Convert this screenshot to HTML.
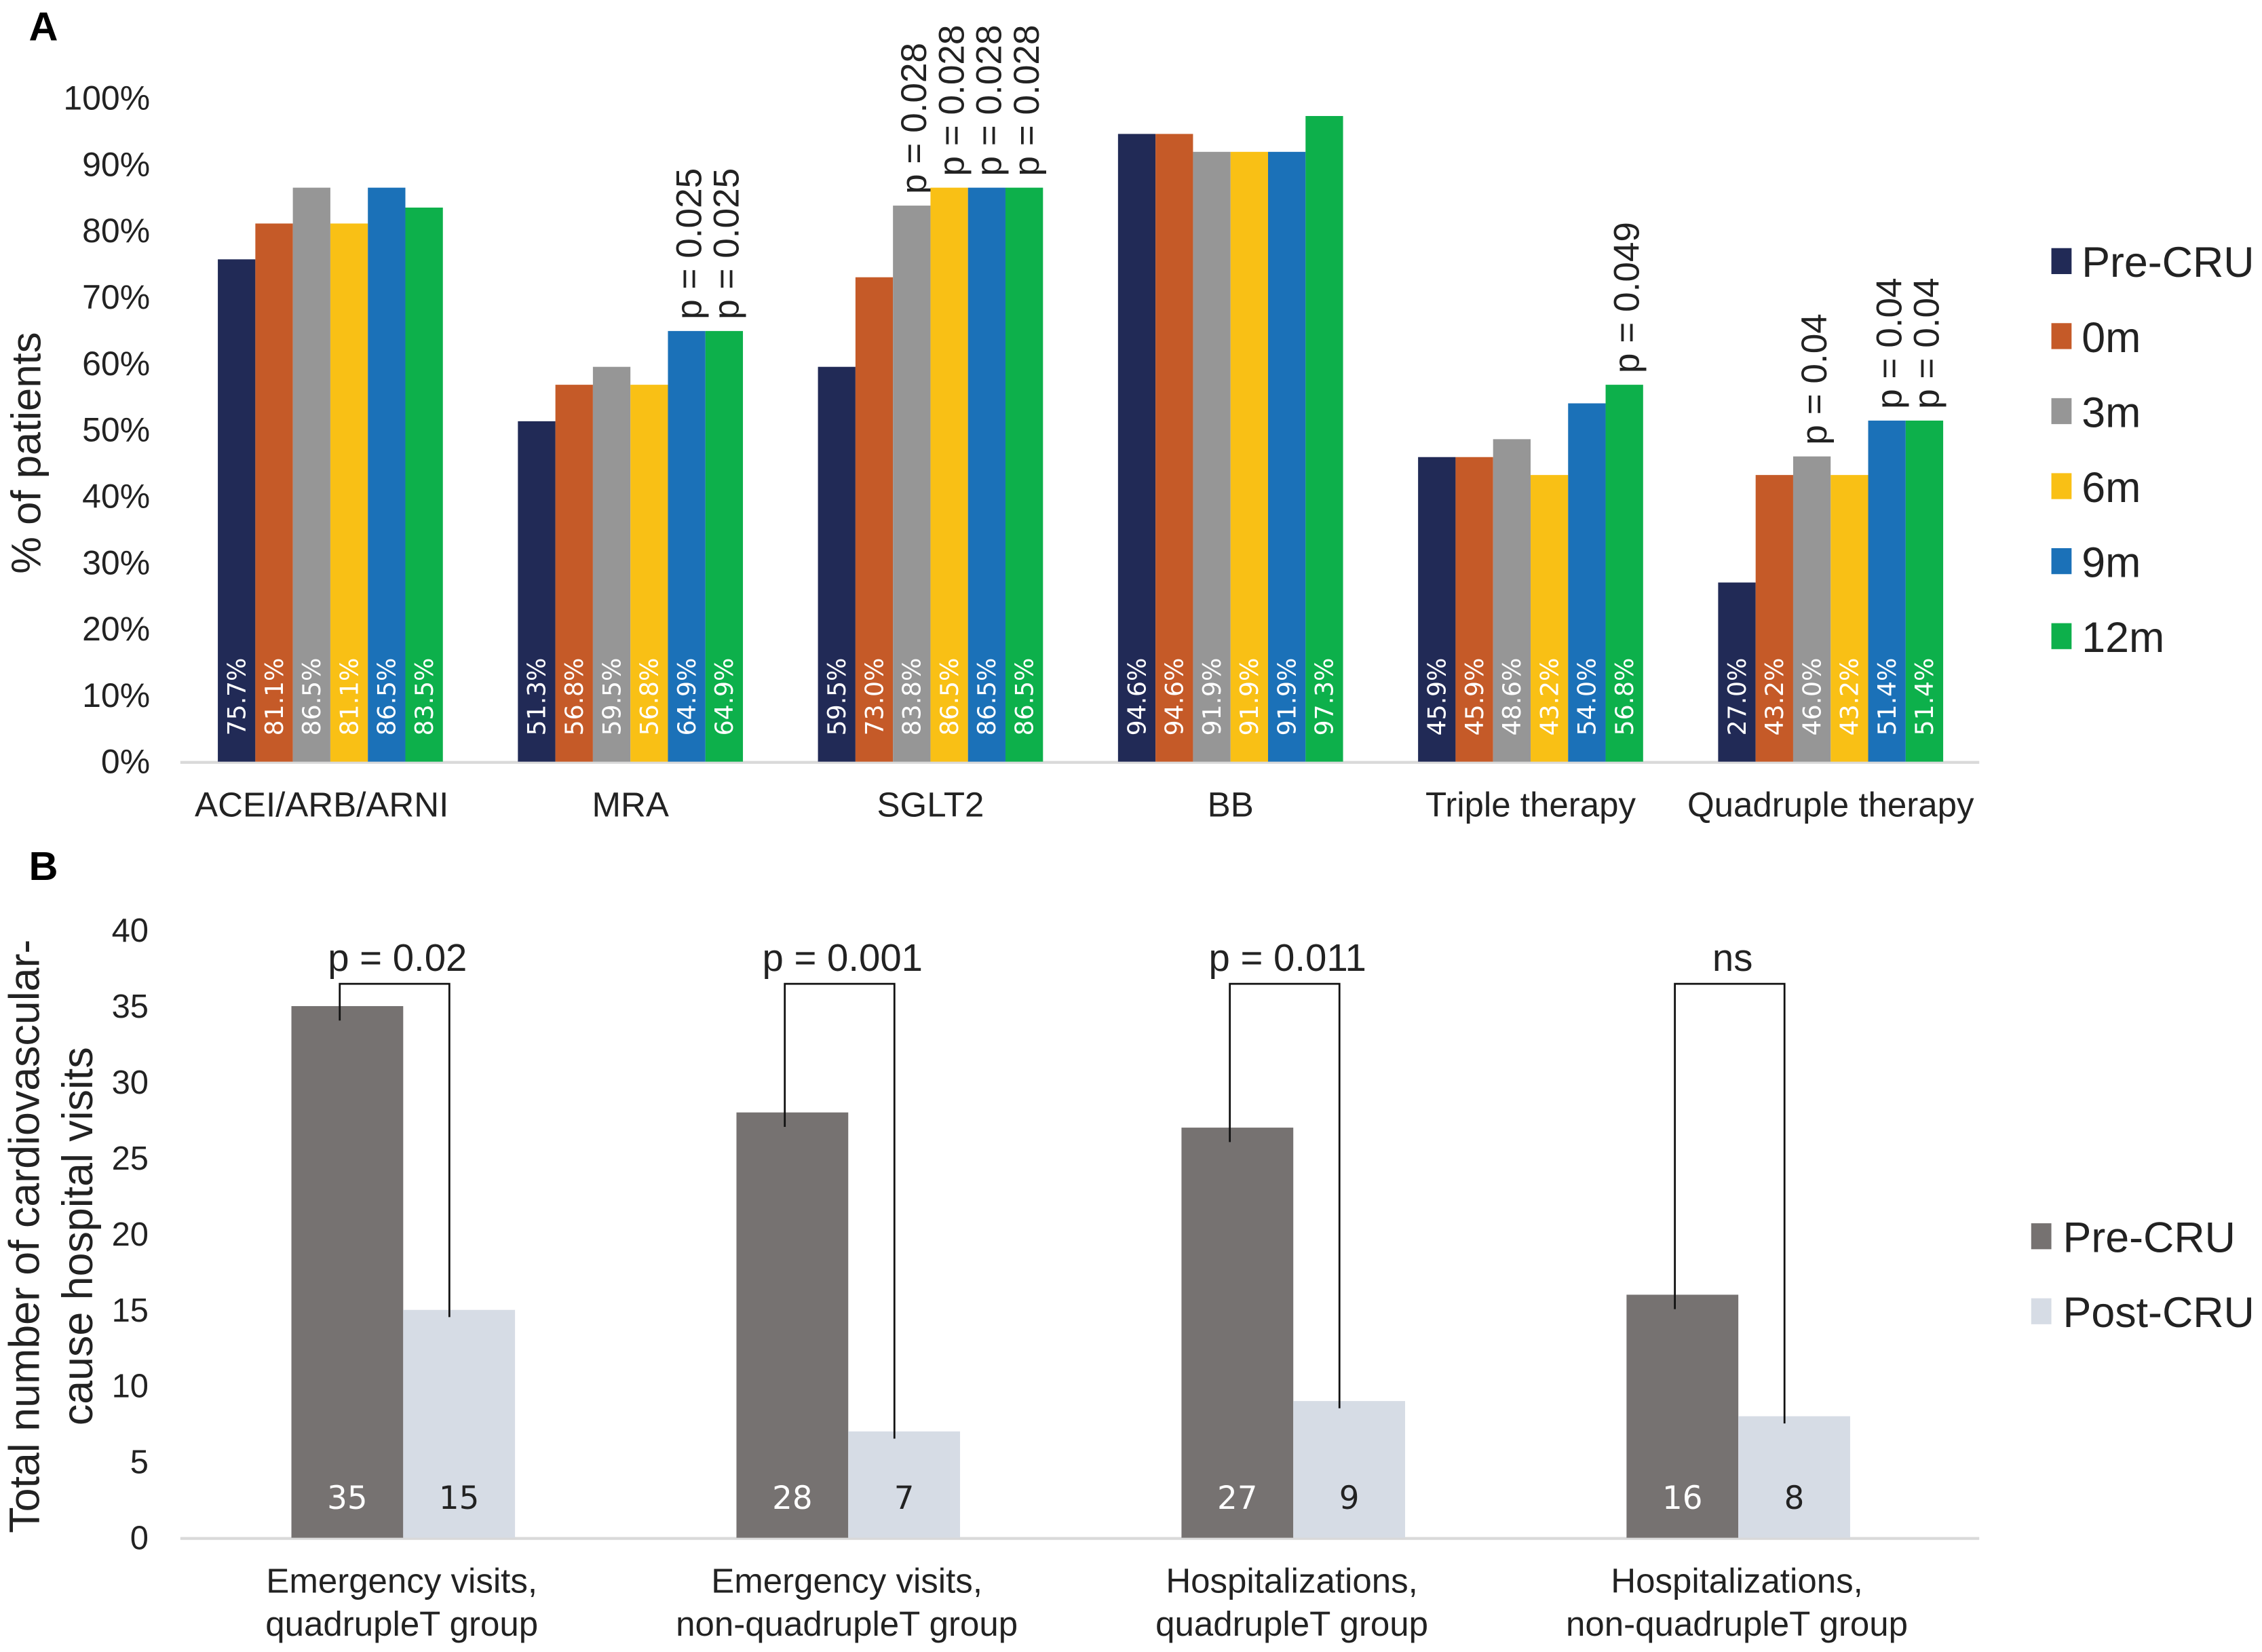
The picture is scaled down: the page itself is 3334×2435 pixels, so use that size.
<!DOCTYPE html>
<html><head><meta charset="utf-8"><style>
html,body{margin:0;padding:0;background:#fff}
svg{display:block;font-family:"Liberation Sans",sans-serif}
</style></head><body>
<svg id="fig" width="3334" height="2435" viewBox="0 0 1568 1145.2" xmlns="http://www.w3.org/2000/svg">
<text x="20" y="28" font-size="28" font-weight="bold">A</text>
<text x="20" y="610" font-size="28" font-weight="bold">B</text>
<g id="ga"></g>
<g id="gb"></g>
</svg>
<script>
const catsA = ["ACEI/ARB/ARNI","MRA","SGLT2","BB","Triple therapy","Quadruple therapy"];
const seriesA = ["Pre-CRU","0m","3m","6m","9m","12m"];
const valsPre = [75.7,51.3,59.5,94.6,45.9,27.0];
const vals0m  = [81.1,56.8,73.0,94.6,45.9,43.2];
const vals3m  = [86.5,59.5,83.8,91.9,48.6,46.0];
const vals6m  = [81.1,56.8,86.5,91.9,43.2,43.2];
const vals9m  = [86.5,64.9,86.5,91.9,54.0,51.4];
const vals12m = [83.5,64.9,86.5,97.3,56.8,51.4];
const pvalsA = [[null,null,null,null,null,null],[null,null,null,null,"0.025","0.025"],[null,null,"0.028","0.028","0.028","0.028"],[null,null,null,null,null,null],[null,null,null,null,null,"0.049"],[null,null,"0.04",null,"0.04","0.04"]];
const ticksA = [0,10,20,30,40,50,60,70,80,90,100];
const catsB = ["Emergency visits,|quadrupleT group","Emergency visits,|non-quadrupleT group","Hospitalizations,|quadrupleT group","Hospitalizations,|non-quadrupleT group"];
const seriesB = ["Pre-CRU","Post-CRU"];
const valsBPre = [35,28,27,16];
const valsBPost = [15,7,9,8];
const pvalsB = ["p = 0.02","p = 0.001","p = 0.011","ns"];
const ticksB = [0,5,10,15,20,25,30,35,40];

const NS="http://www.w3.org/2000/svg";
function mk(parent,tag,attrs,text){const e=document.createElementNS(NS,tag);for(const k in attrs)e.setAttribute(k,attrs[k]);if(text!=null)e.textContent=text;parent.appendChild(e);return e;}

// Chart A
const ga=document.getElementById('ga');
const colA=["#212a56","#c55a28","#969696","#f9c015","#1b71b8","#0db04b"];
const yA=v=>528-v*4.6;
const allA=[valsPre,vals0m,vals3m,vals6m,vals9m,vals12m];
ticksA.forEach(t=>{const e=mk(ga,'text',{x:104,y:yA(t)+8,'font-size':23.5,'text-anchor':'end',fill:'#222'},t+'%');

});
let ax=mk(ga,'line',{x1:125,x2:1372,y1:528.5,y2:528.5,stroke:'#d9d9d9','stroke-width':2});


let yt=mk(ga,'text',{transform:'translate(28,314) rotate(-90)','font-size':29,'text-anchor':'middle',fill:'#222'},'% of patients');


const bw=26;
catsA.forEach((c,i)=>{
 const cx=229+i*208, x0=cx-3*bw;
 allA.forEach((s,j)=>{
  const x=x0+j*bw, v=s[i];
  const r=mk(ga,'rect',{x:x,y:yA(v),width:bw,height:528-yA(v),fill:colA[j]});
  
  
  const t=mk(ga,'text',{transform:`translate(${x+bw/2+6},510) rotate(-90)`,'font-size':17,fill:'#fff','font-family':'DejaVu Sans, sans-serif'},v.toFixed(1)+'%');
  
  
  const p=pvalsA[i][j];
  if(p){const pt=mk(ga,'text',{transform:`translate(${x+bw/2+10},${yA(v)-8}) rotate(-90)`,'font-size':25,fill:'#222'},'p = '+p);
   
   }
 });
 const ct=mk(ga,'text',{x:cx-(i===0?6:0),y:566,'font-size':24,'text-anchor':'middle',fill:'#222'},c);
 
 
});
seriesA.forEach((s,j)=>{const y=182+j*52;
 const r=mk(ga,'rect',{x:1422,y:y-10,width:14,height:18,fill:colA[j]});
 
 
 const t=mk(ga,'text',{x:1443,y:y+10,'font-size':29.5,fill:'#222'},s);
 
 });

// Chart B
const gb=document.getElementById('gb');
const colB=["#767271","#d6dce5"];
const yB=v=>1066-v*10.53;
ticksB.forEach(t=>{const e=mk(gb,'text',{x:103,y:yB(t)+8,'font-size':23,'text-anchor':'end',fill:'#222'},t);

});
ax=mk(gb,'line',{x1:125,x2:1372,y1:1066.5,y2:1066.5,stroke:'#d9d9d9','stroke-width':2});


yt=mk(gb,'text',{transform:'translate(27,857) rotate(-90)','font-size':29.5,'text-anchor':'middle',fill:'#222'},'Total number of cardiovascular-');


yt=mk(gb,'text',{transform:'translate(64,857) rotate(-90)','font-size':29.5,'text-anchor':'middle',fill:'#222'},'cause hospital visits');


const bwB=77.5;
catsB.forEach((c,i)=>{
 const cx=279.5+i*308.5;
 [valsBPre,valsBPost].forEach((s,j)=>{
  const x=cx-bwB+j*bwB, v=s[i];
  const r=mk(gb,'rect',{x:x,y:yB(v),width:bwB,height:1066-yB(v),fill:colB[j]});
  
  
  const t=mk(gb,'text',{x:x+bwB/2,y:1046,'font-size':22,'text-anchor':'middle',fill:j?'#222':'#fff','font-family':'DejaVu Sans, sans-serif'},v);
  
  
 });
 const lx=cx-44, rx=cx+32, top=682;
 const br=mk(gb,'path',{d:`M${lx},${yB(valsBPre[i])+10} V${top} H${rx} V${yB(valsBPost[i])+5}`,fill:'none',stroke:'#111','stroke-width':1.3});
 
 
 const pt=mk(gb,'text',{x:(lx+rx)/2+2,y:673,'font-size':26.5,'text-anchor':'middle',fill:'#222'},pvalsB[i]);
 
 
 c.split('|').forEach((ln,k)=>{const t=mk(gb,'text',{x:cx-1,y:1104+k*30,'font-size':24,'text-anchor':'middle',fill:'#222'},ln);
  
  });
});
seriesB.forEach((s,j)=>{const y=857+j*52;
 const r=mk(gb,'rect',{x:1408,y:y-9,width:14,height:18,fill:colB[j]});
 
 
 const t=mk(gb,'text',{x:1430,y:y+11,'font-size':29.5,fill:'#222'},s);
 
 });
</script>
</body></html>
